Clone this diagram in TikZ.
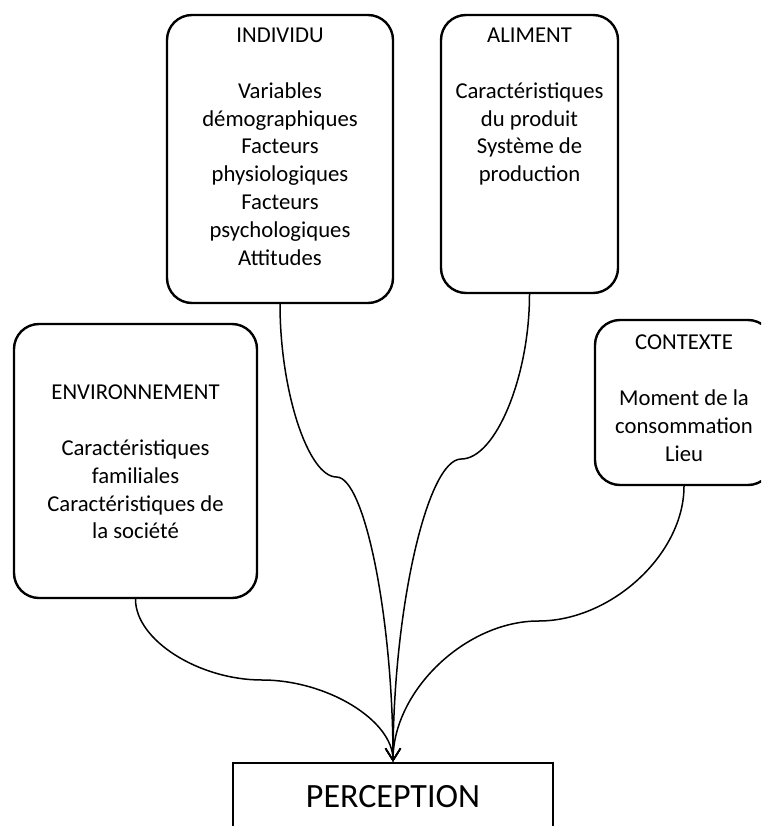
\documentclass[tikz,border=0pt]{standalone}
\usepackage{fontspec}
\setmainfont{Carlito}
\usetikzlibrary{arrows.meta}
\begin{document}
\begin{tikzpicture}[x=1pt,y=-1pt,
  box/.style={draw=black, line width=2.4pt, rounded corners=25pt, fill=white, inner sep=0pt},
  lbl/.style={align=center, anchor=north, inner sep=0pt, font=\fontsize{22.7}{27.8}\selectfont},
  conn/.style={line width=1.5pt, -{Straight Barb[length=12pt,width=15pt]}},
]
\useasboundingbox (0,0) rectangle (761,826);
\clip (0,0) rectangle (761,826);
\fill[white] (0,0) rectangle (761,826);

\node[box, minimum width=226pt, minimum height=288pt] (indiv) at (280,159) {};
\node[box, minimum width=177pt, minimum height=278pt] (alim) at (529.5,154) {};
\node[box, minimum width=243pt, minimum height=274pt] (env) at (135.5,461) {};
\node[box, minimum width=178pt, minimum height=165pt] (ctx) at (684,402.5) {};
\node[draw, line width=2.4pt, minimum width=320pt, minimum height=68pt, fill=white,
      font=\fontsize{34}{40}\selectfont] (perc) at (393,797) {PERCEPTION};

\node[lbl] (indivt) at (280,28) {INDIVIDU\\[27.8pt]Variables\\démographiques\\Facteurs\\physiologiques\\Facteurs\\psychologiques\\Attitudes};
\node[lbl] (alimt) at (529.5,28) {ALIMENT\\[27.8pt]Caractéristiques\\du produit\\Système de\\production};
\node[lbl] (envt) at (135.5,385) {ENVIRONNEMENT\\[27.8pt]Caractéristiques\\familiales\\Caractéristiques de\\la société};
\node[lbl] (ctxt) at (684,335) {CONTEXTE\\[27.8pt]Moment de la\\consommation\\Lieu};

\coordinate (mI) at (336.5,477);
\coordinate (mA) at (461.25,459);
\coordinate (mE) at (262,680);
\coordinate (mC) at (538.5,621);

\draw[conn] (indiv.south) .. controls +(0,87) and +(-28.25,0) .. (mI) .. controls +(28.25,0) and +(0,-143) .. (perc.north);
\draw[conn] (alim.south) .. controls +(0,83) and +(34.1,0) .. (mA) .. controls +(-34.1,0) and +(0,-152) .. (perc.north);
\draw[conn] (env.south) .. controls +(0,41) and +(-63,0) .. (mE) .. controls +(65,0) and +(0,-41.5) .. (perc.north);
\draw[conn] (ctx.south) .. controls +(0,68) and +(72.75,0) .. (mC) .. controls +(-72.75,0) and +(0,-71) .. (perc.north);
\end{tikzpicture}
\end{document}
